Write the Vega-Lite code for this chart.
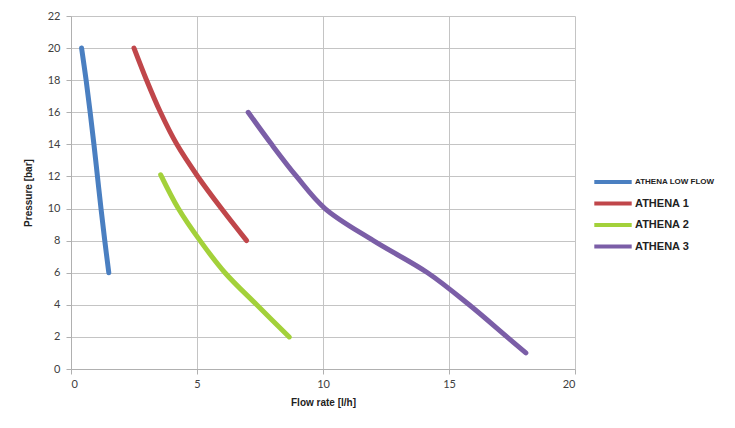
{
  "$schema": "https://vega.github.io/schema/vega-lite/v6.json",
  "width": 504,
  "height": 353,
  "autosize": {"type": "none"},
  "padding": {"left": 71, "top": 16, "right": 160, "bottom": 59},
  "background": "white",
  "config": {
    "view": {"stroke": null},
    "font": "Lato",
    "axis": {
      "gridColor": "#c4c4c4",
      "gridWidth": 1,
      "domainColor": "#b0b0b0",
      "tickColor": "#b0b0b0",
      "tickSize": 5,
      "labelColor": "#404040",
      "labelFontSize": 11,
      "labelFont": "Lato",
      "titleFont": "Liberation Sans",
      "titleFontWeight": "bold",
      "titleFontSize": 10,
      "titleColor": "#222222"
    }
  },
  "data": {
    "values": [
      {"series": "ATHENA LOW FLOW", "flow": 0.42, "pressure": 20},
      {"series": "ATHENA LOW FLOW", "flow": 0.6, "pressure": 18},
      {"series": "ATHENA LOW FLOW", "flow": 0.76, "pressure": 16},
      {"series": "ATHENA LOW FLOW", "flow": 0.91, "pressure": 14},
      {"series": "ATHENA LOW FLOW", "flow": 1.05, "pressure": 12},
      {"series": "ATHENA LOW FLOW", "flow": 1.19, "pressure": 10},
      {"series": "ATHENA LOW FLOW", "flow": 1.34, "pressure": 8},
      {"series": "ATHENA LOW FLOW", "flow": 1.5, "pressure": 6},
      {"series": "ATHENA 1", "flow": 2.5, "pressure": 20},
      {"series": "ATHENA 1", "flow": 3.0, "pressure": 18},
      {"series": "ATHENA 1", "flow": 3.55, "pressure": 16},
      {"series": "ATHENA 1", "flow": 4.2, "pressure": 14},
      {"series": "ATHENA 1", "flow": 5.03, "pressure": 12},
      {"series": "ATHENA 1", "flow": 5.97, "pressure": 10},
      {"series": "ATHENA 1", "flow": 6.97, "pressure": 8},
      {"series": "ATHENA 2", "flow": 3.56, "pressure": 12.1},
      {"series": "ATHENA 2", "flow": 4.26, "pressure": 10},
      {"series": "ATHENA 2", "flow": 5.12, "pressure": 8},
      {"series": "ATHENA 2", "flow": 6.11, "pressure": 6},
      {"series": "ATHENA 2", "flow": 7.37, "pressure": 4},
      {"series": "ATHENA 2", "flow": 8.66, "pressure": 2},
      {"series": "ATHENA 3", "flow": 7.03, "pressure": 16},
      {"series": "ATHENA 3", "flow": 7.96, "pressure": 14},
      {"series": "ATHENA 3", "flow": 8.95, "pressure": 12},
      {"series": "ATHENA 3", "flow": 10.08, "pressure": 10},
      {"series": "ATHENA 3", "flow": 12.0, "pressure": 8},
      {"series": "ATHENA 3", "flow": 14.15, "pressure": 6},
      {"series": "ATHENA 3", "flow": 15.8, "pressure": 4},
      {"series": "ATHENA 3", "flow": 17.3, "pressure": 2},
      {"series": "ATHENA 3", "flow": 18.05, "pressure": 1}
    ]
  },
  "mark": {"type": "line", "strokeWidth": 5, "strokeCap": "round", "strokeJoin": "round", "interpolate": "catmull-rom"},
  "encoding": {
    "x": {
      "field": "flow", "type": "quantitative",
      "scale": {"domain": [0, 20], "nice": false},
      "axis": {"values": [0, 5, 10, 15, 20], "title": "Flow rate [l/h]", "titlePadding": 8, "labelPadding": 4}
    },
    "y": {
      "field": "pressure", "type": "quantitative",
      "scale": {"domain": [0, 22], "nice": false},
      "axis": {"values": [0, 2, 4, 6, 8, 10, 12, 14, 16, 18, 20, 22], "title": "Pressure [bar]", "titlePadding": 14, "labelPadding": 6}
    },
    "order": {"field": "flow", "type": "quantitative"},
    "color": {
      "field": "series", "type": "nominal",
      "scale": {
        "domain": ["ATHENA LOW FLOW", "ATHENA 1", "ATHENA 2", "ATHENA 3"],
        "range": ["#4a7fc1", "#c0464a", "#a3d13a", "#7b5ea7"]
      },
      "legend": {
        "title": null,
        "orient": "none",
        "legendX": 529,
        "legendY": 153,
        "symbolType": "M-1.7,0H1.7",
        "symbolSize": 484,
        "symbolStrokeWidth": 4,
        "labelFont": "Liberation Sans",
        "labelFontWeight": "bold",
        "labelFontSize": 11,
        "labelColor": "#222222",
        "labelOffset": 9,
        "rowPadding": 0.5,
        "encode": {
          "labels": {"update": {"fontSize": {"signal": "datum.label === 'ATHENA LOW FLOW' ? 8 : 11"}}}
        }
      }
    }
  }
}
